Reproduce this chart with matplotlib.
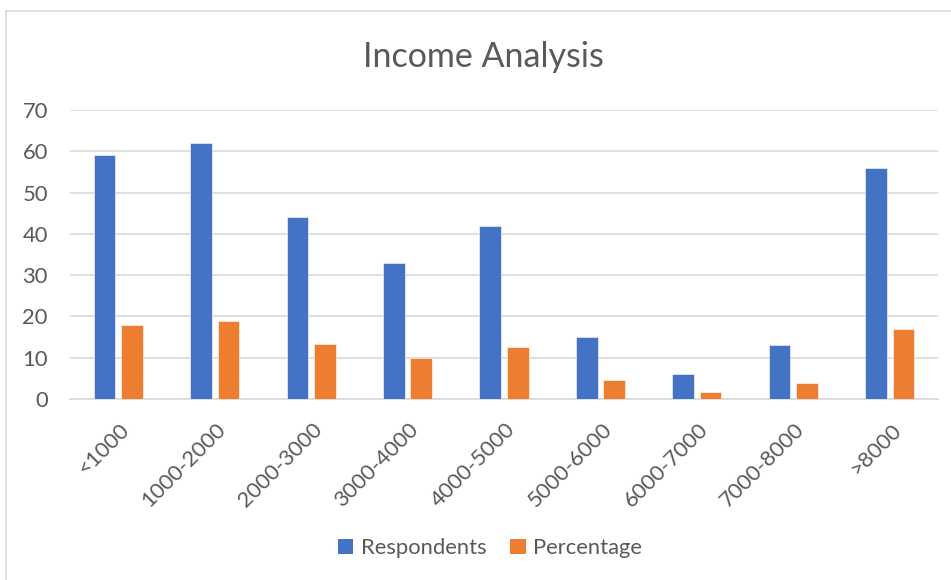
import matplotlib
matplotlib.use("Agg")
import matplotlib.pyplot as plt
import matplotlib.transforms as mtransforms
from matplotlib.lines import Line2D
from matplotlib.patches import Patch
import numpy as np

plt.rcParams['font.family'] = ['Lato', 'DejaVu Sans']

categories = ["<1000", "1000-2000", "2000-3000", "3000-4000", "4000-5000",
              "5000-6000", "6000-7000", "7000-8000", ">8000"]
respondents = [59, 62, 44, 33, 42, 15, 6, 13, 56]
percentage = [17.9, 18.8, 13.3, 10.0, 12.7, 4.5, 1.8, 3.9, 17.0]
yticks = [0, 10, 20, 30, 40, 50, 60, 70]

W, H = 951, 580
fig = plt.figure(figsize=(W / 100, H / 100), dpi=100)
ax = fig.add_axes([70 / W, 1 - 399 / H, (938 - 70) / W, (399 - 110) / H])

blue = "#4472C4"
orange = "#ED7D31"
txt = "#595959"
grid = "#D9D9D9"

x = np.arange(len(categories))
bw = 0.225
off = 0.142
ax.bar(x - off, respondents, bw, color=blue, edgecolor="white", linewidth=0.4, zorder=3)
ax.bar(x + off, percentage, bw, color=orange, edgecolor="white", linewidth=0.4, zorder=3)

ax.set_xlim(-0.5, len(categories) - 0.5)
ax.set_ylim(0, 70)
ax.set_yticks(yticks)
ax.set_yticklabels([str(v) for v in yticks])
ax.yaxis.grid(True, color=grid, linewidth=1.2, zorder=0)
ax.set_axisbelow(True)
for s in ["left", "right", "top"]:
    ax.spines[s].set_visible(False)
ax.spines["bottom"].set_color(grid)
ax.spines["bottom"].set_linewidth(1.2)
ax.tick_params(axis="y", length=0, pad=16, labelsize=15.8, labelcolor=txt)
ax.tick_params(axis="x", length=0, pad=20, labelsize=15.8, labelcolor=txt)

ax.set_xticks(x)
ax.set_xticklabels(categories, rotation=45, ha="right", va="center", rotation_mode="anchor")
offset = mtransforms.ScaledTranslation(8 / 100, 0, fig.dpi_scale_trans)
for lab in ax.get_xticklabels():
    lab.set_transform(lab.get_transform() + offset)

fig.text(483 / W, 1 - 67 / H, "Income Analysis", ha="center", va="baseline",
         fontsize=24.5, color=txt)

handles = [Patch(facecolor=blue, edgecolor="none"), Patch(facecolor=orange, edgecolor="none")]
fig.legend(handles, ["Respondents", "Percentage"], loc="center",
           bbox_to_anchor=(490 / W, 1 - 548 / H), ncol=2, frameon=False,
           fontsize=15.8, labelcolor=txt, handlelength=0.7, handleheight=0.7,
           handletextpad=0.35, columnspacing=1.1)

# chart area border (left and top visible)
fig.add_artist(Line2D([6 / W, 6 / W], [0, 1 - 11 / H], transform=fig.transFigure,
                      color=grid, linewidth=1.2))
fig.add_artist(Line2D([6 / W, 1], [1 - 11 / H, 1 - 11 / H], transform=fig.transFigure,
                      color=grid, linewidth=1.2))

fig.savefig("out.png", dpi=100)
